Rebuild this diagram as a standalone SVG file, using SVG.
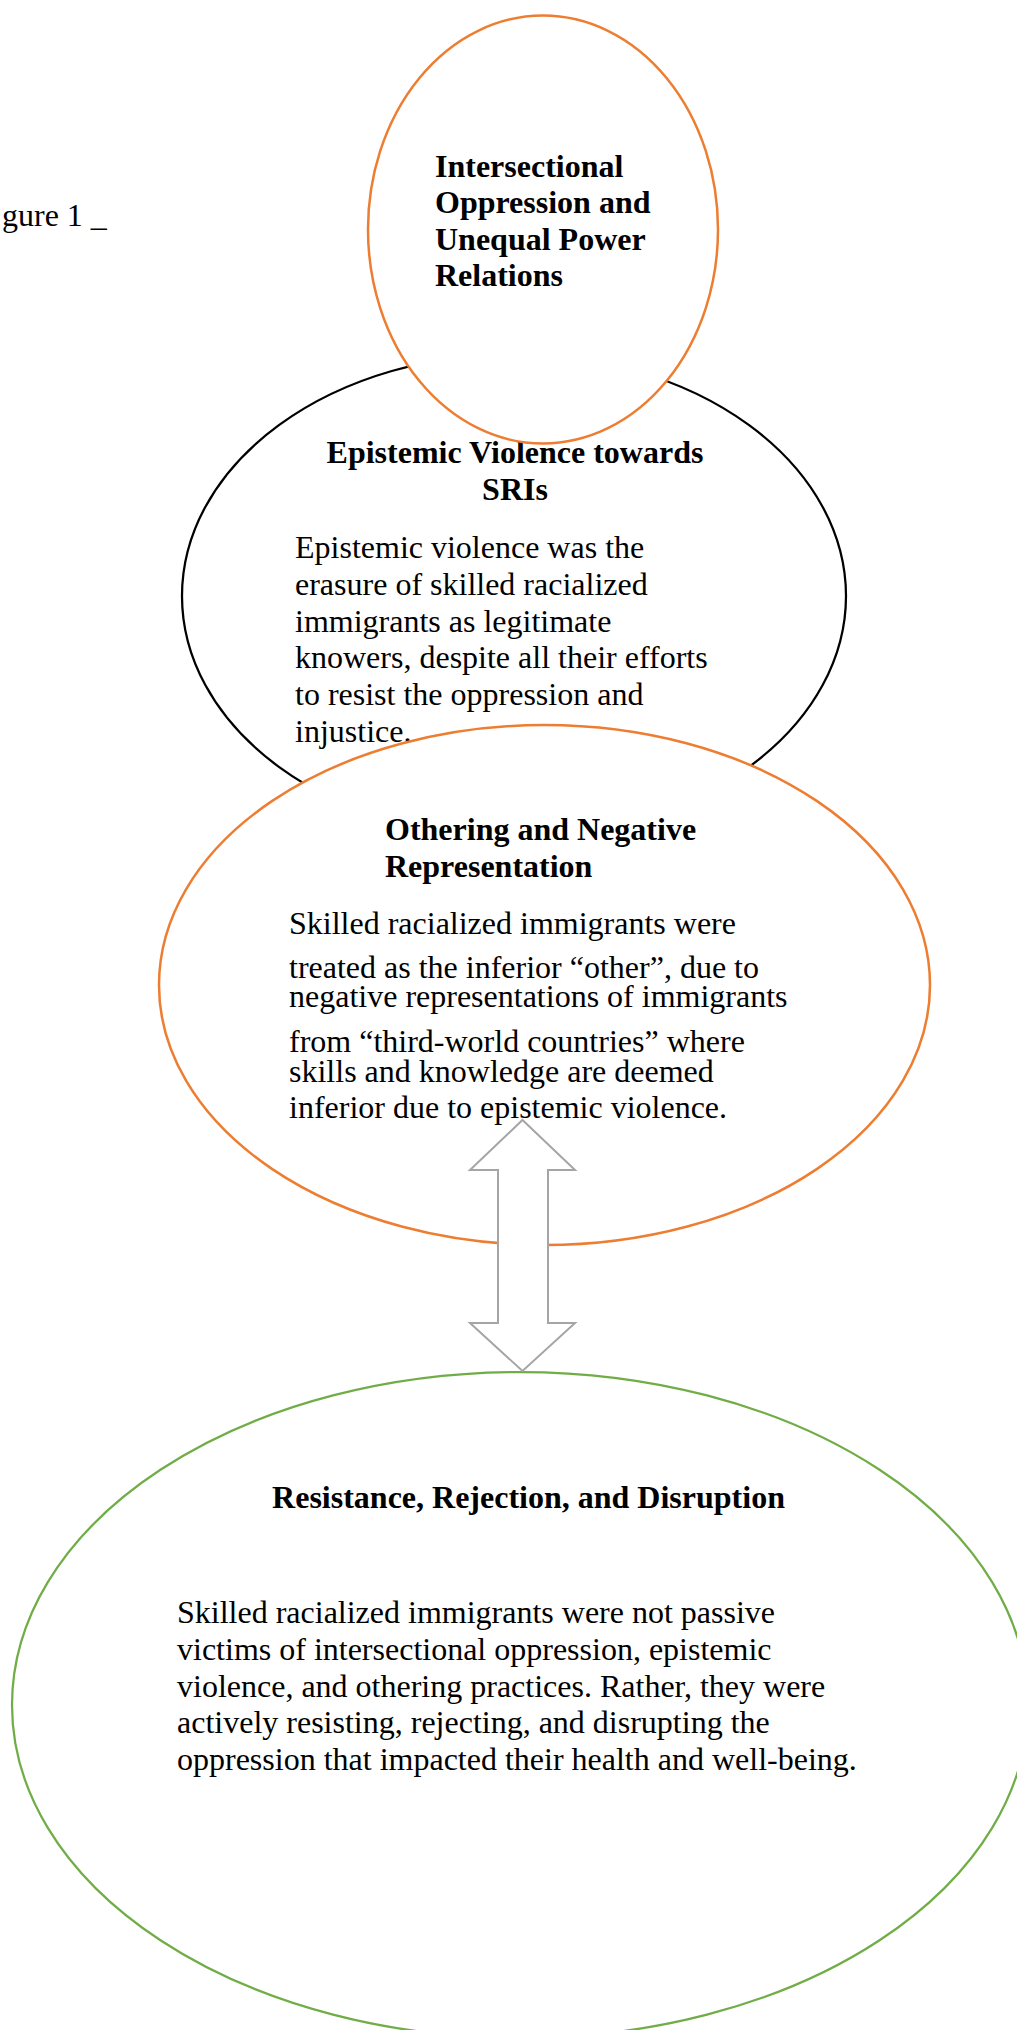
<svg xmlns="http://www.w3.org/2000/svg" width="1017" height="2030" viewBox="0 0 1017 2030">
<style>
  .bg{fill:#ffffff}
  .t{font-family:"Liberation Serif","Times New Roman",serif;font-size:32px;fill:#000}
  .b{font-weight:bold}
  .orange{fill:#ffffff;stroke:#ED7D31;stroke-width:2.5}
  .black{fill:#ffffff;stroke:#000000;stroke-width:2.25}
  .green{fill:#ffffff;stroke:#70AD47;stroke-width:2.25}
  .arrow{fill:#ffffff;stroke:#A5A5A5;stroke-width:2;stroke-linejoin:miter}
</style>
<rect class="bg" x="0" y="0" width="1017" height="2030"/>
<g id="figure-label">
  <text class="t" x="2" y="226">gure 1 _</text>
</g>
<g id="node-epistemic">
  <ellipse class="black" cx="514" cy="596" rx="332" ry="242"/>
  <text class="t b" x="515" y="463" text-anchor="middle">Epistemic Violence towards</text>
  <text class="t b" x="515" y="500" text-anchor="middle">SRIs</text>
  <text class="t" x="295" y="558">Epistemic violence was the</text>
  <text class="t" x="295" y="595">erasure of skilled racialized</text>
  <text class="t" x="295" y="632">immigrants as legitimate</text>
  <text class="t" x="295" y="668">knowers, despite all their efforts</text>
  <text class="t" x="295" y="705">to resist the oppression and</text>
  <text class="t" x="295" y="742">injustice.</text>
</g>
<g id="node-intersectional">
  <ellipse class="orange" cx="543" cy="229.5" rx="175" ry="214"/>
  <text class="t b" x="435" y="176.5">Intersectional</text>
  <text class="t b" x="435" y="213">Oppression and</text>
  <text class="t b" x="435" y="249.5">Unequal Power</text>
  <text class="t b" x="435" y="286">Relations</text>
</g>
<g id="node-othering">
  <ellipse class="orange" cx="544.5" cy="985" rx="385.5" ry="260"/>
  <text class="t b" x="385" y="840">Othering and Negative</text>
  <text class="t b" x="385" y="877">Representation</text>
  <text class="t" x="289" y="934">Skilled racialized immigrants were</text>
  <text class="t" x="289" y="978">treated as the inferior “other”, due to</text>
  <text class="t" x="289" y="1007">negative representations of immigrants</text>
  <text class="t" x="289" y="1052">from “third-world countries” where</text>
  <text class="t" x="289" y="1082">skills and knowledge are deemed</text>
  <text class="t" x="289" y="1118">inferior due to epistemic violence.</text>
</g>
<g id="node-resistance">
  <ellipse class="green" cx="520" cy="1705" rx="508" ry="333"/>
  <text class="t b" x="528.5" y="1508" text-anchor="middle">Resistance, Rejection, and Disruption</text>
  <text class="t" x="177" y="1623">Skilled racialized immigrants were not passive</text>
  <text class="t" x="177" y="1660">victims of intersectional oppression, epistemic</text>
  <text class="t" x="177" y="1697">violence, and othering practices. Rather, they were</text>
  <text class="t" x="177" y="1733">actively resisting, rejecting, and disrupting the</text>
  <text class="t" x="177" y="1770">oppression that impacted their health and well-being.</text>
</g>
<g id="connectors">
  <path class="arrow" d="M522.5,1120 L575,1170 L548,1170 L548,1323 L575,1323 L522.5,1371 L470,1323 L498,1323 L498,1170 L470,1170 Z"/>
</g>
</svg>
